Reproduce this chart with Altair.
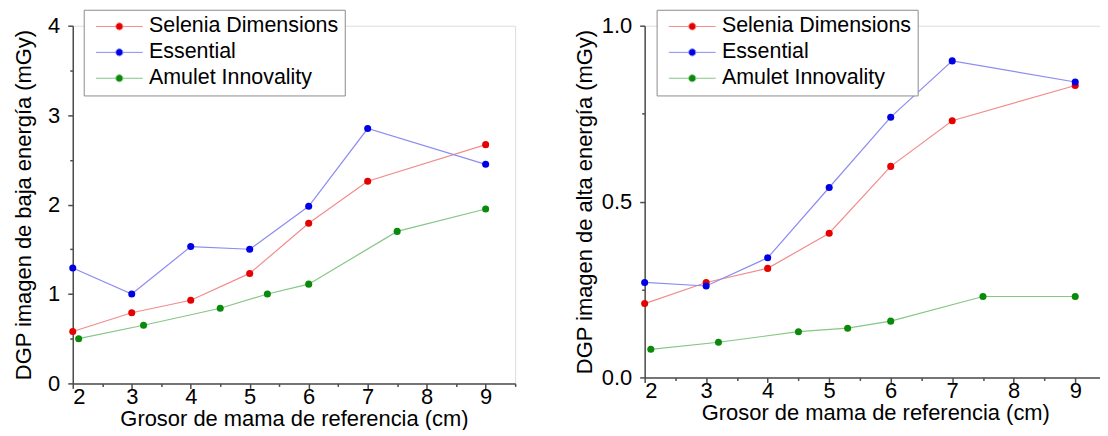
import altair as alt
import pandas as pd

FONT = "Liberation Sans"

series_names = ["Selenia Dimensions", "Essential", "Amulet Innovality"]
dot_colors = ["#E60000", "#0000E6", "#0A8A0A"]
line_colors = ["#F28C8C", "#8C8CF2", "#86C686"]

thickness_std = [2, 3, 4, 5, 6, 7, 9]
thickness_amulet = [2.1, 3.2, 4.5, 5.3, 6, 7.5, 9]

low_selenia = [0.58, 0.79, 0.93, 1.23, 1.79, 2.26, 2.67]
low_essential = [1.29, 1.00, 1.53, 1.50, 1.98, 2.85, 2.45]
low_amulet = [0.50, 0.65, 0.84, 1.00, 1.11, 1.70, 1.95]

high_selenia = [0.21, 0.27, 0.31, 0.41, 0.60, 0.73, 0.83]
high_essential = [0.27, 0.26, 0.34, 0.54, 0.74, 0.90, 0.84]
high_amulet = [0.08, 0.10, 0.13, 0.14, 0.16, 0.23, 0.23]

x_major = [2, 3, 4, 5, 6, 7, 8, 9]
x_minor = [2.5, 3.5, 4.5, 5.5, 6.5, 7.5, 8.5, 9.5]
low_major = [0, 1, 2, 3, 4]
low_minor = [0.5, 1.5, 2.5, 3.5]
high_major = [0.0, 0.5, 1.0]
high_minor = [0.25, 0.75]

x_title = "Grosor de mama de referencia (cm)"
low_title = "DGP imagen de baja energía (mGy)"
high_title = "DGP imagen de alta energía (mGy)"


def make_df(sel, ess, amu):
    rows = []
    for xs, vals, name in [(thickness_std, sel, series_names[0]),
                           (thickness_std, ess, series_names[1]),
                           (thickness_amulet, amu, series_names[2])]:
        for x, v in zip(xs, vals):
            rows.append({"x": x, "y": v, "serie": name})
    return pd.DataFrame(rows)


# legend glyph: thin line with a dot in the middle (unit = 10 px for size 400)
SYMBOL = ("M-2.35,0L-0.36,0M0.36,0L2.35,0"
          "M0.36,0A0.36,0.36,0,1,1,-0.36,0A0.36,0.36,0,1,1,0.36,0Z")


def legend(lx, ly):
    return alt.Legend(title=None, orient="none", legendX=lx, legendY=ly,
                      symbolType=SYMBOL, symbolSize=400, symbolStrokeWidth=1,
                      labelFont=FONT, labelFontSize=21.5, labelColor="black",
                      labelOffset=19, padding=6, rowPadding=3, symbolOffset=19,
                      titlePadding=0, strokeColor="#8c8c8c", fillColor="white",
                      labelLimit=400)


AX = dict(labelFont=FONT, titleFont=FONT, labelFontSize=22, titleFontSize=22,
          titleFontWeight="normal", labelColor="black", titleColor="black",
          domainColor="#4d4d4d", tickColor="#4d4d4d", domainWidth=1.5,
          tickWidth=1.5, grid=False)


def panel(df, y_domain, y_major, y_minor, y_title, y_fmt, width, height, title_pad, lx, ly):
    xs = alt.Scale(domain=[2, 9.5], nice=False, zero=False)
    ys = alt.Scale(domain=y_domain, nice=False, zero=False)
    line = alt.Chart(df).mark_line(strokeWidth=1.2).encode(
        x=alt.X("x:Q", scale=xs, axis=alt.Axis(values=x_major, tickSize=5, labelPadding=-2,
                                               title=x_title, titlePadding=1, orient="bottom", **AX)),
        y=alt.Y("y:Q", scale=ys, axis=alt.Axis(values=y_major, format=y_fmt, tickSize=5,
                                               labelPadding=8, title=y_title,
                                               titlePadding=title_pad, orient="left", **AX)),
        stroke=alt.Stroke("serie:N", scale=alt.Scale(domain=series_names, range=line_colors),
                          legend=legend(lx, ly)),
    )
    pts = alt.Chart(df).mark_point(filled=True, size=50, opacity=1).encode(
        x=alt.X("x:Q", scale=xs, axis=None),
        y=alt.Y("y:Q", scale=ys, axis=None),
        fill=alt.Fill("serie:N", scale=alt.Scale(domain=series_names, range=dot_colors),
                      legend=legend(lx, ly)),
    )
    minor = alt.Chart(df).mark_point(opacity=0).encode(
        x=alt.X("x:Q", scale=xs, axis=alt.Axis(values=x_minor, labels=False, domain=False,
                                               tickSize=3, title=None, orient="bottom",
                                               tickColor="#4d4d4d", tickWidth=1.5, grid=False)),
        y=alt.Y("y:Q", scale=ys, axis=alt.Axis(values=y_minor, labels=False, domain=False,
                                               tickSize=3, title=None, orient="left",
                                               tickColor="#4d4d4d", tickWidth=1.5, grid=False)),
    )
    return alt.layer(line, pts, minor).resolve_axis(x="independent", y="independent").properties(
        width=width, height=height)


left = panel(make_df(low_selenia, low_essential, low_amulet), [0, 4], low_major, low_minor,
             low_title, "d", 444, 359, 12, 11, -16)
right = panel(make_df(high_selenia, high_essential, high_amulet), [0, 1], high_major, high_minor,
              high_title, ".1f", 463, 353, 5, 12, -16)

chart = alt.hconcat(left, right, spacing=55).resolve_scale(
    fill="independent", stroke="independent"
).properties(
    padding={"left": 4, "top": 0, "right": -8, "bottom": -1}
).configure_view(stroke=None).configure(background="white")

chart.save("out.html", embed_options={"renderer": "svg", "actions": False})
